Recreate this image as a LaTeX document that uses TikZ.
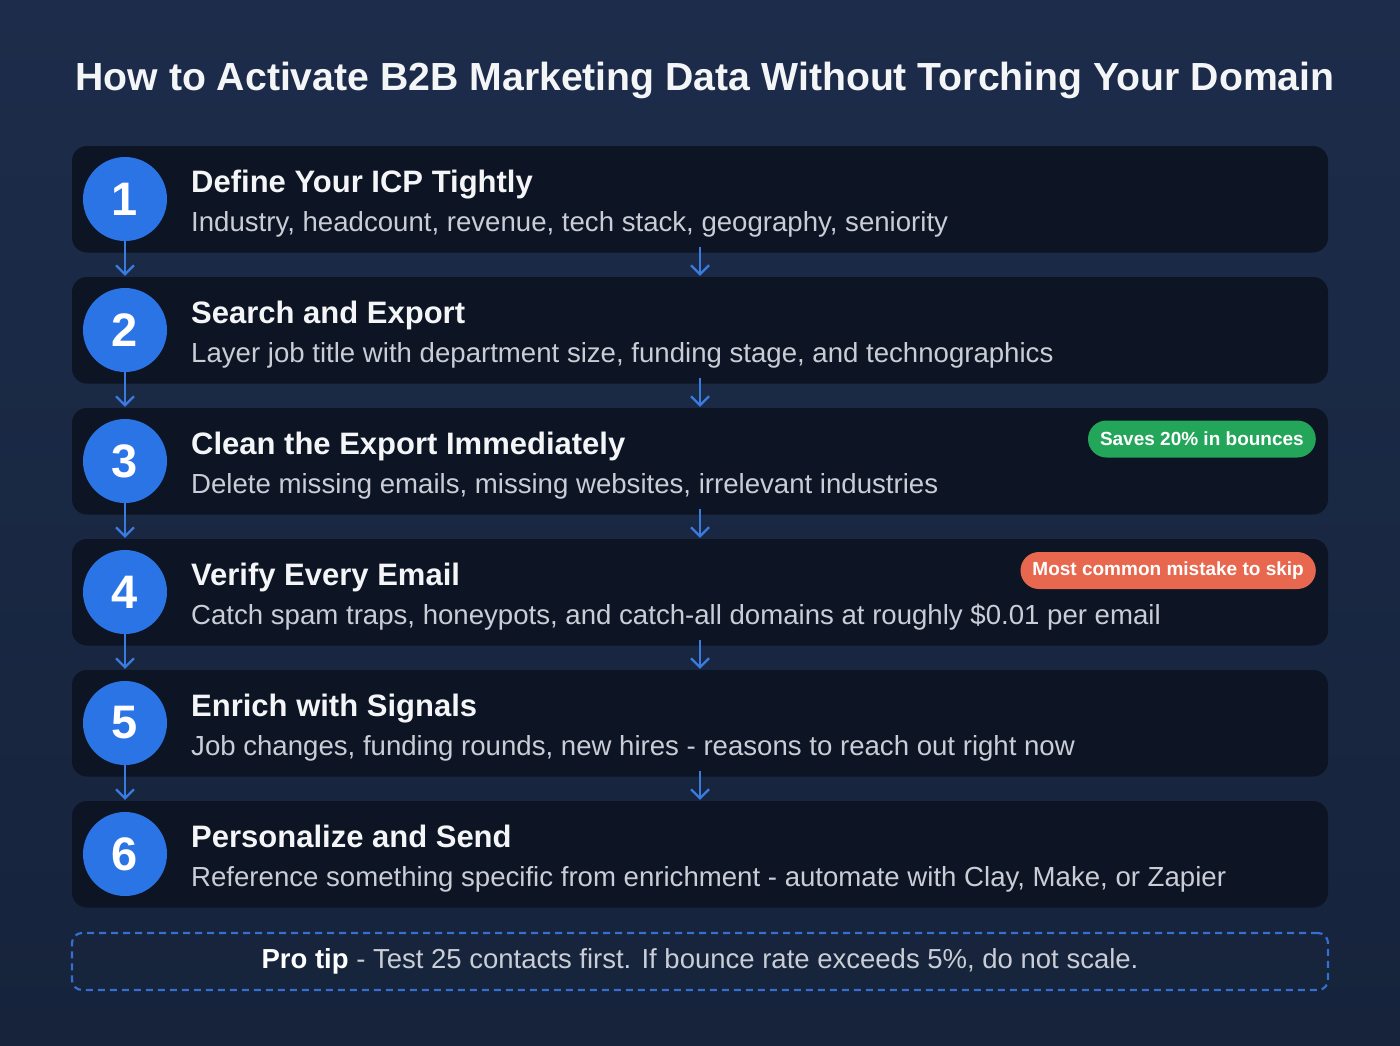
\documentclass[tikz,border=0pt]{standalone}
\usepackage{fontspec}
\setmainfont{Liberation Sans}
\usetikzlibrary{arrows.meta,calc}
\definecolor{bgtop}{HTML}{1C2C4A}
\definecolor{bgbot}{HTML}{16233B}
\definecolor{cardc}{HTML}{0D1424}
\definecolor{blu}{HTML}{2B74E6}
\definecolor{arrc}{HTML}{3A7BE0}
\definecolor{headc}{HTML}{F4F5F7}
\definecolor{subc}{HTML}{C9CDD6}
\definecolor{grn}{HTML}{23A55A}
\definecolor{cor}{HTML}{E8674F}
\definecolor{dashc}{HTML}{3570D0}
\begin{document}
\begin{tikzpicture}[x=1pt,y=-1pt,
  card/.style={fill=cardc,rounded corners=15pt,minimum width=1256pt,minimum height=106.5pt,inner sep=0pt},
  numc/.style={circle,fill=blu,minimum size=84pt,inner sep=0pt,text=white,font=\fontsize{47}{50}\selectfont\bfseries},
  head/.style={anchor=base west,inner sep=0pt,text=headc,font=\fontsize{31}{34}\selectfont\bfseries},
  sub/.style={anchor=base west,inner sep=0pt,text=subc,font=\fontsize{27.6}{31}\selectfont},
  pill/.style={rounded corners=18.5pt,minimum height=37pt,inner xsep=12pt,inner ysep=0pt,text=white,font=\fontsize{19}{22}\selectfont\bfseries,anchor=east},
  arr/.style={draw=arrc,line width=2.2pt,-{Straight Barb[length=9pt,width=18pt,line width=2.2pt]}},
  tipbox/.style={draw=dashc,line width=2.2pt,dash pattern=on 7pt off 5pt,rounded corners=10pt,minimum width=1256pt,minimum height=57pt,inner sep=0pt,text=subc,font=\fontsize{27.5}{31}\selectfont}
]
\shade[top color=bgtop,bottom color=bgbot] (0,0) rectangle (1400,1045);
\useasboundingbox (0,0) rectangle (1400,1045);

\node[anchor=base,inner sep=0pt,text=headc,font=\fontsize{39.2}{44}\selectfont\bfseries] (title) at (705,90)
  {How to Activate B2B Marketing Data Without Torching Your Domain};

\foreach \i/\hd/\sb in {
  1/{Define Your ICP Tightly}/{Industry, headcount, revenue, tech stack, geography, seniority},
  2/{Search and Export}/{Layer job title with department size, funding stage, and technographics},
  3/{Clean the Export Immediately}/{Delete missing emails, missing websites, irrelevant industries},
  4/{Verify Every Email}/{Catch spam traps, honeypots, and catch-all domains at roughly \$0.01 per email},
  5/{Enrich with Signals}/{Job changes, funding rounds, new hires - reasons to reach out right now},
  6/{Personalize and Send}/{Reference something specific from enrichment - automate with Clay, Make, or Zapier}}
{
  \pgfmathsetmacro{\t}{146+131*(\i-1)}
  \node[card] (k\i) at (700,\t+53.25) {};
  \node[numc] (n\i) at (125,\t+53) {\i};
  \node[head] (h\i) at (191,\t+46) {\hd};
  \node[sub] (s\i) at (191,\t+85) {\sb};
}

\node[pill,fill=grn] (b3) at (1316,439) {Saves 20\% in bounces};
\node[pill,fill=cor] (b4) at (1316,570.5) {Most common mistake to skip};

\foreach \i [evaluate=\i as \j using int(\i+1)] in {1,...,5}{
  \draw[arr,shorten >=1pt] (n\i.south) -- (n\i.south |- k\j.north);
  \draw[arr,shorten >=1pt] ([yshift=6pt]k\i.south) -- (k\j.north);
}

\node[tipbox] (tip) at (700,961.5) {\textcolor{white}{\textbf{Pro tip}} - Test 25 contacts first. If bounce rate exceeds 5\%, do not scale.};
\end{tikzpicture}
\end{document}
